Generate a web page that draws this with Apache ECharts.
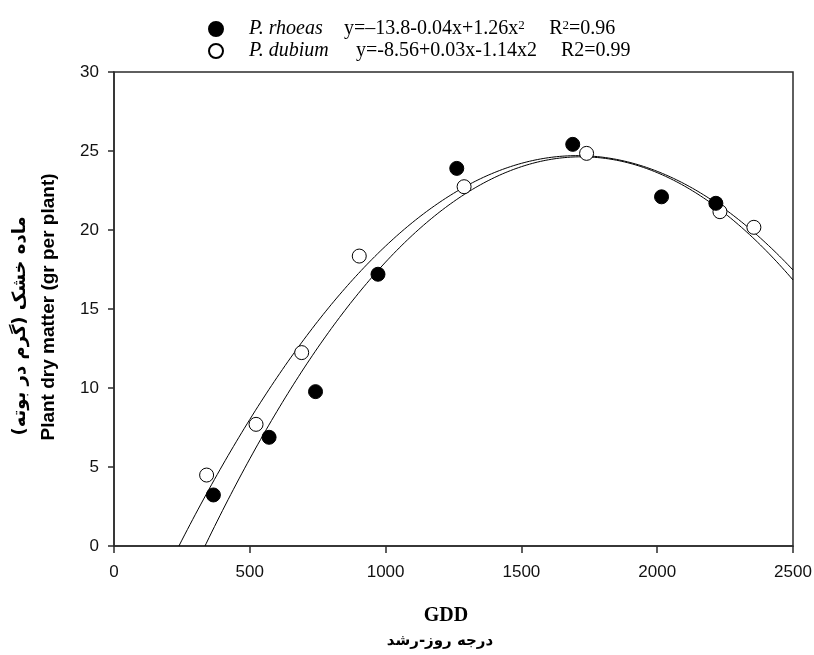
<!DOCTYPE html>
<html>
<head>
<meta charset="utf-8">
<script src="https://cdn.jsdelivr.net/npm/echarts@6/dist/echarts.min.js"></script>
<style>
html,body{margin:0;padding:0;background:#fff;}
#chart{width:814px;height:655px;}
</style>
</head>
<body>
<div id="chart"></div>
<script>
// ---- data ----
const gddRhoeas = [366, 571, 742, 972, 1262, 1689, 2016, 2216];
const dmRhoeas  = [3.23, 6.88, 9.77, 17.2, 23.9, 25.42, 22.1, 21.69];
const gddDubium = [341, 523, 691, 903, 1289, 1740, 2231, 2356];
const dmDubium  = [4.49, 7.7, 12.24, 18.35, 22.74, 24.85, 21.16, 20.17];
// fitted quadratic coefficients [c0, c1, c2] (y = c0 + c1*x + c2*x^2), estimated from the drawn curves
const fitRhoeas = [-13.35, 0.04415, -1.283e-5];
const fitDubium = [-8.706, 0.03917, -1.148e-5];
const xTicks = [0, 500, 1000, 1500, 2000, 2500];
const yTicks = [0, 5, 10, 15, 20, 25, 30];

function fitCurve(c, xmax, step) {
  const disc = c[1] * c[1] - 4 * c[2] * c[0];
  const root = (-c[1] + Math.sqrt(disc)) / (2 * c[2]);
  const pts = [[root, 0]];
  for (let x = Math.ceil(root / step) * step; x <= xmax; x += step) {
    pts.push([x, c[0] + c[1] * x + c[2] * x * x]);
  }
  return pts;
}

const chart = echarts.init(document.getElementById('chart'), null, {renderer: 'canvas'});
const axisCol = '#2b2b2b';
const rlm = '\u200F';
const serif = 'Liberation Serif, Times New Roman, serif';
const sans = 'Liberation Sans, Arial, sans-serif';

const option = {
  backgroundColor: '#ffffff',
  animation: false,
  grid: {left: 114, right: 21, top: 72, bottom: 109, show: true, borderColor: axisCol, borderWidth: 1.5,
         backgroundColor: 'transparent', containLabel: false, outerBoundsMode: 'none'},
  xAxis: {
    type: 'value', min: xTicks[0], max: xTicks[xTicks.length - 1], interval: 500,
    axisLine: {show: true, onZero: false, lineStyle: {color: axisCol, width: 1.5}},
    axisTick: {show: true, inside: false, length: 7, lineStyle: {color: axisCol, width: 1.5}},
    axisLabel: {margin: 18, fontFamily: sans, fontSize: 17, color: '#111', formatter: v => String(v)},
    splitLine: {show: false}
  },
  yAxis: {
    type: 'value', min: yTicks[0], max: yTicks[yTicks.length - 1], interval: 5,
    axisLine: {show: true, onZero: false, lineStyle: {color: axisCol, width: 1.5}},
    axisTick: {show: true, inside: false, length: 6, lineStyle: {color: axisCol, width: 1.5}},
    axisLabel: {margin: 15, fontFamily: sans, fontSize: 17, color: '#111', formatter: v => String(v)},
    splitLine: {show: false}
  },
  legend: {
    orient: 'vertical', left: 208, top: 19, padding: 0, itemGap: 1, itemWidth: 14, itemHeight: 14,
    data: ['P. rhoeas', 'P. dubium'],
    formatter: function (name) {
      if (name === 'P. rhoeas') {
        return '{s|}{i|P. rhoeas}{e|y=\u201313.8-0.04x+1.26x}{sp1|2}{e|R}{sp|2}{e|=0.96}';
      }
      return '{s|}{i2|P. dubium}{e2|y=-8.56+0.03x-1.14x2}{e|R2=0.99}';
    },
    textStyle: {
      fontFamily: serif, fontSize: 20, color: '#000',
      rich: {
        s: {width: 21, lineHeight: 20},
        i: {width: 95, fontStyle: 'italic', fontSize: 20, lineHeight: 20, fontFamily: serif},
        i2: {width: 107, fontStyle: 'italic', fontSize: 20, lineHeight: 20, fontFamily: serif},
        e2: {width: 205, fontSize: 20, lineHeight: 20, fontFamily: serif},
        e: {fontSize: 20, lineHeight: 20, fontFamily: serif},
        sp1: {width: 31, fontSize: 13, verticalAlign: 'top', lineHeight: 20, padding: [0, 0, 8, 0], fontFamily: serif},
        sp: {fontSize: 13, verticalAlign: 'top', lineHeight: 20, padding: [0, 0, 8, 0], fontFamily: serif}
      }
    }
  },
  graphic: [
    {
      type: 'text', x: 49, y: 307, rotation: Math.PI / 2,
      style: {text: 'Plant dry matter (gr per plant)', fontFamily: sans, fontWeight: 'bold', fontSize: 19, fill: '#000', align: 'center', verticalAlign: 'middle'}
    },
    {
      type: 'text', x: 20, y: 326, rotation: Math.PI / 2,
      style: {text: rlm + 'ماده خشک (گرم در بوته)' + rlm, fontFamily: 'DejaVu Sans, Noto Sans, sans-serif', fontWeight: 'bold', fontSize: 18, fill: '#000', align: 'center', verticalAlign: 'middle'}
    },
    {
      type: 'text', x: 446, y: 616,
      style: {text: 'GDD', fontFamily: serif, fontWeight: 'bold', fontSize: 20, fill: '#000', align: 'center', verticalAlign: 'middle'}
    },
    {
      type: 'text', x: 440, y: 641,
      style: {text: rlm + 'درجه روز-رشد' + rlm, fontFamily: 'DejaVu Sans, Noto Sans, sans-serif', fontWeight: 'bold', fontSize: 15, fill: '#000', align: 'center', verticalAlign: 'middle'}
    }
  ],
  series: [
    {
      name: 'fit rhoeas', type: 'line', data: fitCurve(fitRhoeas, 2500, 10), showSymbol: false, smooth: false,
      lineStyle: {color: '#000', width: 1}, z: 2, silent: true, clip: true
    },
    {
      name: 'fit dubium', type: 'line', data: fitCurve(fitDubium, 2500, 10), showSymbol: false, smooth: false,
      lineStyle: {color: '#000', width: 1}, z: 2, silent: true, clip: true
    },
    {
      name: 'P. rhoeas', type: 'scatter', symbol: 'circle', symbolSize: 14,
      data: gddRhoeas.map((x, i) => [x, dmRhoeas[i]]),
      itemStyle: {color: '#000', borderColor: '#000', borderWidth: 1, opacity: 1}, z: 4
    },
    {
      name: 'P. dubium', type: 'scatter', symbol: 'circle', symbolSize: 14,
      data: gddDubium.map((x, i) => [x, dmDubium[i]]),
      itemStyle: {color: '#fff', borderColor: '#000', borderWidth: 1, opacity: 1}, z: 3
    }
  ]
};
chart.setOption(option);
</script>
</body>
</html>
